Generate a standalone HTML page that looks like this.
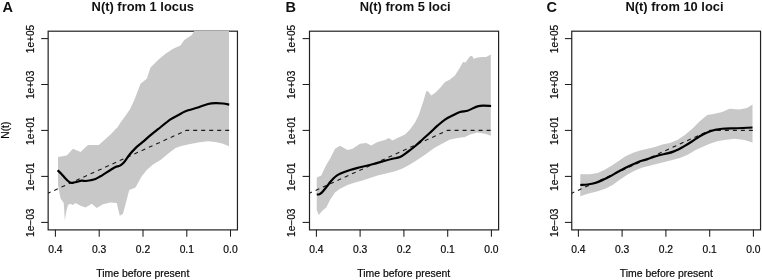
<!DOCTYPE html>
<html><head><meta charset="utf-8"><title>N(t) plots</title>
<style>
html,body{margin:0;padding:0;background:#fff;}
svg{display:block;will-change:transform;font-family:"Liberation Sans",sans-serif;}
.ax{stroke:#222;stroke-width:1.2;fill:none;}
.tk{stroke:#1c1c1c;stroke-width:1.05;fill:none;}
.tl{font-size:10.3px;fill:#0a0a0a;stroke:#0a0a0a;stroke-width:0.2;}
.yl{font-size:10.1px;}
.xl{font-size:10.45px;}
.tt{font-size:12.9px;font-weight:bold;fill:#111;}
.lt{font-size:14.5px;font-weight:bold;fill:#111;}
.band{fill:#c8c8c8;stroke:none;}
.ln{fill:none;stroke:#000;stroke-width:2.2;stroke-linejoin:round;stroke-linecap:butt;}
.ds{fill:none;stroke:#1a1a1a;stroke-width:1.1;stroke-dasharray:4 4;stroke-dashoffset:1.3;}
</style></head><body>
<svg width="762" height="280" viewBox="0 0 762 280">
<rect width="762" height="280" fill="#fff"/>

<g>
<rect class="ax" x="48.15" y="31.2" width="189.3" height="198.7"/>
<polygon class="band" points="58.00,157.00 66.75,155.50 73.00,148.75 80.50,152.00 88.00,145.00 98.75,145.00 105.00,139.40 110.50,134.40 117.50,127.30 121.25,121.50 125.50,115.80 130.00,109.30 134.30,100.00 136.25,95.00 140.50,83.75 146.75,78.75 150.50,67.50 158.00,60.00 165.50,53.75 173.00,48.75 180.50,45.50 184.25,40.00 191.75,35.00 194.25,31.10 229.00,31.10 229.00,146.25 223.00,143.75 215.50,141.90 208.00,141.25 198.00,142.60 193.00,143.50 188.00,144.40 180.50,146.25 175.50,148.00 168.00,153.75 160.50,160.00 153.00,164.50 146.75,170.00 141.75,176.25 135.50,187.50 129.25,190.00 123.00,213.75 119.75,215.75 116.75,203.00 110.50,202.50 103.00,204.25 96.75,208.00 91.75,203.75 85.50,207.50 80.50,205.75 75.50,203.00 73.00,205.00 70.50,203.75 68.00,205.00 66.20,212.00 64.90,220.80 63.70,203.00 60.60,198.50 59.50,193.00 58.00,185.00"/>
<polyline class="ds" points="48.1,193.19 186.2,130.4 231.1,130.4"/>
<path class="ln" d="M57.60 170.20C58.21 170.80 60.02 172.50 61.25 173.80C62.48 175.10 63.88 176.80 65.00 178.00C66.12 179.20 67.17 180.27 68.00 181.00C68.83 181.73 69.37 182.10 70.00 182.40C70.63 182.70 71.13 182.78 71.80 182.80C72.47 182.82 73.17 182.65 74.00 182.50C74.83 182.35 75.46 182.20 76.75 181.90C78.04 181.60 80.29 180.85 81.75 180.70C83.21 180.55 84.04 181.07 85.50 181.00C86.96 180.93 88.83 180.58 90.50 180.25C92.17 179.92 93.83 179.67 95.50 179.00C97.17 178.33 98.83 177.23 100.50 176.25C102.17 175.27 103.83 174.14 105.50 173.10C107.17 172.06 108.83 171.02 110.50 170.00C112.17 168.98 113.92 167.73 115.50 167.00C117.08 166.27 118.54 166.43 120.00 165.60C121.46 164.77 122.71 163.77 124.25 162.00C125.79 160.23 127.38 157.32 129.25 155.00C131.12 152.68 133.29 150.23 135.50 148.10C137.71 145.97 140.08 144.28 142.50 142.20C144.92 140.12 147.42 137.77 150.00 135.60C152.58 133.43 154.58 131.90 158.00 129.20C161.42 126.50 167.17 121.72 170.50 119.40C173.83 117.08 175.50 116.66 178.00 115.30C180.50 113.94 182.17 112.55 185.50 111.25C188.83 109.95 194.25 108.71 198.00 107.50C201.75 106.29 205.08 104.73 208.00 104.00C210.92 103.27 213.00 103.18 215.50 103.10C218.00 103.02 220.71 103.25 223.00 103.50C225.29 103.75 228.21 104.42 229.25 104.60"/>
<line class="tk" x1="41.2" y1="38.6" x2="48.15" y2="38.6"/>
<text class="tl yl" text-anchor="middle" transform="translate(33.8,39.0) rotate(-90)">1e+05</text>
<line class="tk" x1="41.2" y1="84.5" x2="48.15" y2="84.5"/>
<text class="tl yl" text-anchor="middle" transform="translate(33.8,84.9) rotate(-90)">1e+03</text>
<line class="tk" x1="41.2" y1="130.4" x2="48.15" y2="130.4"/>
<text class="tl yl" text-anchor="middle" transform="translate(33.8,130.8) rotate(-90)">1e+01</text>
<line class="tk" x1="41.2" y1="176.4" x2="48.15" y2="176.4"/>
<text class="tl yl" text-anchor="middle" transform="translate(33.8,176.8) rotate(-90)">1e−01</text>
<line class="tk" x1="41.2" y1="222.4" x2="48.15" y2="222.4"/>
<text class="tl yl" text-anchor="middle" transform="translate(33.8,222.8) rotate(-90)">1e−03</text>
<line class="tk" x1="55.4" y1="229.85" x2="55.4" y2="236.7"/>
<text class="tl" text-anchor="middle" x="55.4" y="252.8">0.4</text>
<line class="tk" x1="99.2" y1="229.85" x2="99.2" y2="236.7"/>
<text class="tl" text-anchor="middle" x="99.2" y="252.8">0.3</text>
<line class="tk" x1="143.0" y1="229.85" x2="143.0" y2="236.7"/>
<text class="tl" text-anchor="middle" x="143.0" y="252.8">0.2</text>
<line class="tk" x1="186.8" y1="229.85" x2="186.8" y2="236.7"/>
<text class="tl" text-anchor="middle" x="186.8" y="252.8">0.1</text>
<line class="tk" x1="230.5" y1="229.85" x2="230.5" y2="236.7"/>
<text class="tl" text-anchor="middle" x="230.5" y="252.8">0.0</text>
<text class="tl xl" text-anchor="middle" x="142.8" y="276.5">Time before present</text>
<text class="tt" text-anchor="middle" x="142.8" y="10.9">N(t) from 1 locus</text>
<text class="lt" x="2.5" y="12.0">A</text>
</g>
<g>
<rect class="ax" x="309.5" y="31.2" width="189.1" height="198.7"/>
<polygon class="band" points="316.75,177.50 321.25,175.50 323.75,170.00 326.25,165.00 330.00,158.75 335.00,148.75 340.00,145.75 347.50,150.00 352.50,148.75 360.00,143.75 366.25,143.00 371.25,145.50 377.50,142.00 385.00,140.00 388.75,138.00 392.50,140.50 397.50,138.00 405.00,134.50 410.00,129.50 415.00,122.50 418.75,115.00 421.25,107.50 423.75,100.00 426.25,91.25 428.00,91.25 431.25,95.50 435.00,93.00 440.00,88.00 445.00,82.00 450.00,79.50 455.00,75.50 460.00,67.50 463.00,62.00 465.50,62.50 470.00,56.25 472.00,55.75 473.75,58.75 477.50,57.50 482.50,57.00 486.25,57.00 490.80,54.50 490.80,135.75 485.00,133.75 477.50,132.50 470.00,134.50 465.00,137.00 457.50,138.00 450.00,139.50 442.50,143.50 435.00,147.50 430.00,151.00 425.00,154.75 417.50,159.75 410.00,164.50 402.50,168.50 395.00,171.30 385.00,173.75 377.50,175.50 370.00,178.00 362.50,180.50 355.00,182.50 347.50,185.00 340.00,188.75 335.00,192.50 330.00,200.00 326.25,207.50 322.50,210.50 318.75,215.00 316.75,210.00"/>
<polyline class="ds" points="309.5,193.19 447.5,130.4 492.4,130.4"/>
<path class="ln" d="M316.75 194.50C317.21 194.45 318.62 194.55 319.50 194.20C320.38 193.85 321.25 193.10 322.00 192.40C322.75 191.70 323.00 191.23 324.00 190.00C325.00 188.77 327.00 186.28 328.00 185.00C329.00 183.72 328.83 183.63 330.00 182.30C331.17 180.97 333.33 178.43 335.00 177.00C336.67 175.57 337.50 174.92 340.00 173.75C342.50 172.58 346.67 171.07 350.00 170.00C353.33 168.93 356.25 168.26 360.00 167.30C363.75 166.34 368.33 165.34 372.50 164.25C376.67 163.16 381.67 161.67 385.00 160.75C388.33 159.83 390.00 159.38 392.50 158.75C395.00 158.12 397.50 158.12 400.00 157.00C402.50 155.88 405.00 153.79 407.50 152.00C410.00 150.21 412.50 148.33 415.00 146.25C417.50 144.17 420.00 141.76 422.50 139.50C425.00 137.24 427.50 135.00 430.00 132.70C432.50 130.40 435.00 127.88 437.50 125.70C440.00 123.52 442.50 121.30 445.00 119.60C447.50 117.90 450.00 116.77 452.50 115.50C455.00 114.23 457.50 112.79 460.00 112.00C462.50 111.21 465.33 111.38 467.50 110.75C469.67 110.12 471.33 108.92 473.00 108.20C474.67 107.48 475.83 106.82 477.50 106.40C479.17 105.98 480.73 105.77 483.00 105.70C485.27 105.63 489.75 105.95 491.10 106.00"/>
<line class="tk" x1="302.6" y1="38.6" x2="309.5" y2="38.6"/>
<text class="tl yl" text-anchor="middle" transform="translate(295.2,39.0) rotate(-90)">1e+05</text>
<line class="tk" x1="302.6" y1="84.5" x2="309.5" y2="84.5"/>
<text class="tl yl" text-anchor="middle" transform="translate(295.2,84.9) rotate(-90)">1e+03</text>
<line class="tk" x1="302.6" y1="130.4" x2="309.5" y2="130.4"/>
<text class="tl yl" text-anchor="middle" transform="translate(295.2,130.8) rotate(-90)">1e+01</text>
<line class="tk" x1="302.6" y1="176.4" x2="309.5" y2="176.4"/>
<text class="tl yl" text-anchor="middle" transform="translate(295.2,176.8) rotate(-90)">1e−01</text>
<line class="tk" x1="302.6" y1="222.4" x2="309.5" y2="222.4"/>
<text class="tl yl" text-anchor="middle" transform="translate(295.2,222.8) rotate(-90)">1e−03</text>
<line class="tk" x1="316.4" y1="229.85" x2="316.4" y2="236.7"/>
<text class="tl" text-anchor="middle" x="316.4" y="252.8">0.4</text>
<line class="tk" x1="360.1" y1="229.85" x2="360.1" y2="236.7"/>
<text class="tl" text-anchor="middle" x="360.1" y="252.8">0.3</text>
<line class="tk" x1="403.9" y1="229.85" x2="403.9" y2="236.7"/>
<text class="tl" text-anchor="middle" x="403.9" y="252.8">0.2</text>
<line class="tk" x1="447.7" y1="229.85" x2="447.7" y2="236.7"/>
<text class="tl" text-anchor="middle" x="447.7" y="252.8">0.1</text>
<line class="tk" x1="491.4" y1="229.85" x2="491.4" y2="236.7"/>
<text class="tl" text-anchor="middle" x="491.4" y="252.8">0.0</text>
<text class="tl xl" text-anchor="middle" x="403.7" y="276.5">Time before present</text>
<text class="tt" text-anchor="middle" x="405.2" y="10.9">N(t) from 5 loci</text>
<text class="lt" x="285.4" y="12.0">B</text>
</g>
<g>
<rect class="ax" x="571.75" y="31.2" width="188.8" height="198.7"/>
<polygon class="band" points="580.30,174.25 590.25,174.25 597.72,173.00 605.18,169.50 612.65,165.00 620.11,160.00 625.09,156.60 632.55,153.00 640.02,150.60 647.49,148.75 654.95,147.00 662.42,144.50 669.88,143.00 677.35,140.00 684.81,135.00 692.28,128.75 699.74,121.25 707.21,115.00 714.67,113.75 722.14,112.00 729.61,108.75 739.56,109.50 747.03,108.00 752.50,104.50 752.50,142.50 744.54,140.00 734.58,138.75 724.63,140.00 717.16,141.25 709.70,143.75 702.23,147.00 694.77,150.60 687.30,155.00 679.84,158.00 672.37,160.00 662.42,162.50 652.46,165.00 642.51,167.50 635.04,170.50 627.58,174.50 620.11,179.50 612.65,185.00 605.18,188.75 597.72,191.25 587.76,193.75 580.30,196.25"/>
<polyline class="ds" points="571.8,193.19 709.8,130.4 754.6,130.4"/>
<path class="ln" d="M580.30 185.00C581.54 184.92 585.27 184.83 587.76 184.50C590.25 184.17 592.74 183.75 595.23 183.00C597.72 182.25 600.20 181.12 602.69 180.00C605.18 178.88 607.67 177.58 610.16 176.25C612.65 174.92 615.13 173.38 617.62 172.00C620.11 170.62 622.60 169.25 625.09 168.00C627.58 166.75 630.07 165.62 632.55 164.50C635.04 163.38 637.53 162.15 640.02 161.25C642.51 160.35 644.58 160.02 647.49 159.10C650.39 158.18 654.12 156.70 657.44 155.75C660.76 154.80 664.74 154.09 667.39 153.40C670.05 152.71 671.46 152.30 673.37 151.60C675.27 150.90 676.93 150.15 678.84 149.20C680.75 148.25 682.57 147.22 684.81 145.90C687.05 144.58 689.79 142.86 692.28 141.25C694.77 139.64 697.26 137.71 699.74 136.25C702.23 134.79 704.72 133.54 707.21 132.50C709.70 131.46 712.19 130.62 714.67 130.00C717.16 129.38 718.41 129.04 722.14 128.75C725.87 128.46 732.01 128.46 737.07 128.25C742.13 128.04 749.93 127.62 752.50 127.50"/>
<line class="tk" x1="564.9" y1="38.6" x2="571.75" y2="38.6"/>
<text class="tl yl" text-anchor="middle" transform="translate(557.5,39.0) rotate(-90)">1e+05</text>
<line class="tk" x1="564.9" y1="84.5" x2="571.75" y2="84.5"/>
<text class="tl yl" text-anchor="middle" transform="translate(557.5,84.9) rotate(-90)">1e+03</text>
<line class="tk" x1="564.9" y1="130.4" x2="571.75" y2="130.4"/>
<text class="tl yl" text-anchor="middle" transform="translate(557.5,130.8) rotate(-90)">1e+01</text>
<line class="tk" x1="564.9" y1="176.4" x2="571.75" y2="176.4"/>
<text class="tl yl" text-anchor="middle" transform="translate(557.5,176.8) rotate(-90)">1e−01</text>
<line class="tk" x1="564.9" y1="222.4" x2="571.75" y2="222.4"/>
<text class="tl yl" text-anchor="middle" transform="translate(557.5,222.8) rotate(-90)">1e−03</text>
<line class="tk" x1="578.4" y1="229.85" x2="578.4" y2="236.7"/>
<text class="tl" text-anchor="middle" x="578.4" y="252.8">0.4</text>
<line class="tk" x1="622.1" y1="229.85" x2="622.1" y2="236.7"/>
<text class="tl" text-anchor="middle" x="622.1" y="252.8">0.3</text>
<line class="tk" x1="665.9" y1="229.85" x2="665.9" y2="236.7"/>
<text class="tl" text-anchor="middle" x="665.9" y="252.8">0.2</text>
<line class="tk" x1="709.7" y1="229.85" x2="709.7" y2="236.7"/>
<text class="tl" text-anchor="middle" x="709.7" y="252.8">0.1</text>
<line class="tk" x1="753.4" y1="229.85" x2="753.4" y2="236.7"/>
<text class="tl" text-anchor="middle" x="753.4" y="252.8">0.0</text>
<text class="tl xl" text-anchor="middle" x="666.3" y="276.5">Time before present</text>
<text class="tt" text-anchor="middle" x="674.5" y="10.9">N(t) from 10 loci</text>
<text class="lt" x="546.5" y="12.0">C</text>
</g>
<text class="tl" text-anchor="middle" transform="translate(8.6,130.2) rotate(-90)">N(t)</text>
</svg></body></html>
